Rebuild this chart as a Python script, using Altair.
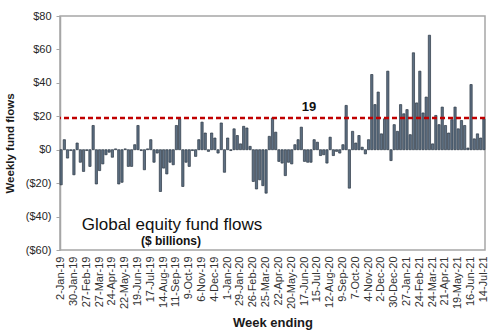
import altair as alt
import pandas as pd

# Weekly global equity fund flows, $ billions (week ending 2-Jan-19 ... 14-Jul-21)
FLOWS = [
    -21, 6, -5, -0.5, -15, 4, -7.5, -13, -0.5, -10,
    14.5, -20.5, -12.5, -8.5, -3, -1.5, -4.5, 0.5, -20.5, -19.5,
    0.5, -10, -10, 3, 14.5, -0.5, -12, 0.5, 6, -7.5,
    -2, -25, -11, -14.5, -7.5, -9, 14.5, 18.5, -22, -7.5,
    -10, -0.5, -4, 6, 16.5, 10, -1, 10, 7, -2,
    16, -13.5, 7, -0.5, 12.5, 8.5, 3.5, 14, 13, 2,
    -19, -23.5, -18, -21.5, -26, 8, 19, 10.5, -7, -8,
    -15.5, -7.5, -8.5, 3, 6, 13.5, -7, -7.5, -7.5, 6,
    4.5, -3.5, -3, -8, 7.5, -3.5, -1, -2, 3, 26.5,
    -23, 11, 4, 8.5, 1.5, -2.5, 6, 45, 27, 34.5,
    9.5, 18.5, 47, -6.5, 15, 11, 27, 21.5, 24, 9,
    58, 28, 47, 22, 31.5, 68.5, 3.5, 20.5, 15, 25.5,
    14.5, 10, 18, 25.5, 12.5, 17.5, 14.5, 1, 39, 6.5,
    9.5, 7, 18.5,
]

FIRST_WEEK = "2019-01-02"
AVERAGE = 19

TICK_LABELS = [
    "2-Jan-19", "30-Jan-19", "27-Feb-19", "27-Mar-19", "24-Apr-19", "22-May-19",
    "19-Jun-19", "17-Jul-19", "14-Aug-19", "11-Sep-19", "9-Oct-19", "6-Nov-19",
    "4-Dec-19", "1-Jan-20", "29-Jan-20", "26-Feb-20", "25-Mar-20", "22-Apr-20",
    "20-May-20", "17-Jun-20", "15-Jul-20", "12-Aug-20", "9-Sep-20", "7-Oct-20",
    "4-Nov-20", "2-Dec-20", "30-Dec-20", "27-Jan-21", "24-Feb-21", "24-Mar-21",
    "21-Apr-21", "19-May-21", "16-Jun-21", "14-Jul-21",
]

Y_TICKS = [-60, -40, -20, 0, 20, 40, 60, 80]

dates = pd.date_range(FIRST_WEEK, periods=len(FLOWS), freq="7D")
weeks = [f"{d.day}-{d.strftime('%b-%y')}" for d in dates]
df = pd.DataFrame({"week": weeks, "flow": FLOWS})
one = pd.DataFrame({"k": [0]})

FONT = "Liberation Sans"

x_enc = alt.X(
    "week:N", sort=None,
    scale=alt.Scale(paddingInner=0.3, paddingOuter=0.0),
    axis=alt.Axis(
        values=TICK_LABELS, labelAngle=-90, labelFontSize=11, labelFont=FONT,
        labelColor="#333333", ticks=False, labelPadding=6, domain=False,
        labelOverlap=False,
        title="Week ending", titleFont=FONT, titleFontSize=13, titleFontWeight="bold",
        titleColor="#1a1a1a", titleY=72, titleBaseline="middle",
    ),
)

y_enc = alt.Y(
    "flow:Q",
    scale=alt.Scale(domain=[-60, 80], nice=False),
    axis=alt.Axis(
        values=Y_TICKS, tickCount=len(Y_TICKS), grid=False, labelFontSize=11, labelFont=FONT,
        labelColor="#262626", tickSize=4, tickColor="#A6A6A6", labelPadding=5,
        domainColor="#A6A6A6", domainWidth=1.5, labelOverlap=False,
        labelExpr="datum.value >= 0 ? '$' + datum.value + '\u2008' : '($' + abs(datum.value) + ')'",
        title="Weekly fund flows", titleFont=FONT, titleFontSize=11.5, titleFontWeight="bold",
        titleColor="#1a1a1a", titleX=-50, titleY=127, titleBaseline="middle", titleAngle=-90,
    ),
)

bars = alt.Chart(df).mark_bar(
    fill="#5E7083", stroke="#2B3744", strokeWidth=0.7
).encode(x=x_enc, y=y_enc)

avg_rule = alt.Chart(one).mark_rule(
    color="#C00000", strokeWidth=2.5, strokeDash=[5, 3]
).encode(y=alt.YDatum(AVERAGE))

avg_label = alt.Chart(one).mark_text(
    text=str(AVERAGE), font=FONT, fontSize=13, fontWeight="bold", color="#111111",
    baseline="middle", align="center", dy=-11,
).encode(x=alt.value(249), y=alt.YDatum(AVERAGE))

title_text = alt.Chart(one).mark_text(
    text="Global equity fund flows", font=FONT, fontSize=17, color="#111111",
    baseline="middle", align="center",
).encode(x=alt.value(112), y=alt.value(209))

sub_text = alt.Chart(one).mark_text(
    text="($ billions)", font=FONT, fontSize=12, fontWeight="bold", color="#111111",
    baseline="middle", align="center",
).encode(x=alt.value(111), y=alt.value(225))

chart = alt.layer(bars, avg_rule, avg_label, title_text, sub_text).properties(
    width=425, height=234,
    autosize=alt.AutoSizeParams(type="none"),
    padding={"left": 60, "top": 16, "right": 15, "bottom": 83},
    background="white",
).configure_view(
    stroke="#A6A6A6", strokeWidth=1.5
)

chart.save("out.html", embed_options={"renderer": "svg", "actions": False})
